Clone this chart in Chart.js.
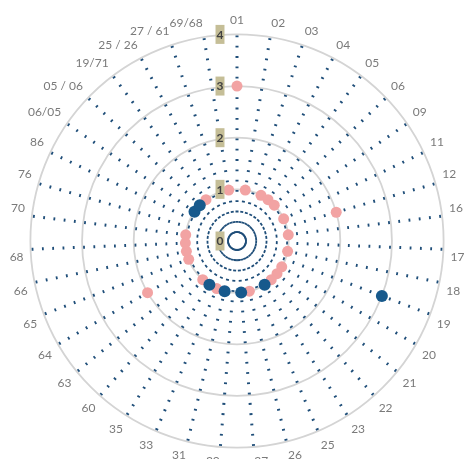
<!DOCTYPE html>
<html><head><meta charset="utf-8">
<script src="https://cdn.jsdelivr.net/npm/chart.js@4.4.1/dist/chart.umd.min.js"></script>
<style>
html,body{margin:0;padding:0;background:#fff;overflow:hidden;width:464px;height:459px;}
#wrap{position:absolute;left:0;top:0;width:470px;height:475px;}
</style></head><body>
<div id="wrap"><canvas id="c"></canvas></div>
<script>
const categories = ['01','02','03','04','05','06','09','11','12','16','17','18','19','20','21','22','23','25','26','27','30','31','33','35','60','63','64','65','66','68','70','76','86','06/05','05 / 06','19/71','25 / 26','27 / 61','69/68'];
const pinkValues = [3,1,null,1,1,1,null,1,2,1,null,1,null,1,1,1,null,null,1,null,null,null,1,null,1,null,2,1,1,1,1,null,null,null,null,1,null,null,1];
const blueValues = [null,null,null,null,null,null,null,null,null,null,null,null,3,null,null,null,1,null,null,1,null,1,null,1,null,null,null,null,null,null,null,null,null,1,1,null,null,null,null];
const radialTicks = [0,1,2,3,4];

const tickLabelPlugin = {
  id: 'tickLabels',
  afterDatasetsDraw(chart) {
    const s = chart.scales.r, ctx = chart.ctx;
    ctx.save();
    ctx.font = 'bold 12px Lato';
    ctx.textAlign = 'center';
    ctx.textBaseline = 'middle';
    radialTicks.forEach(v => {
      const t = String(v);
      const y = s.yCenter - s.getDistanceFromCenterForValue(v);
      const x = s.xCenter - 17;
      const w = ctx.measureText(t).width + 2;
      ctx.fillStyle = '#C5BE97';
      ctx.fillRect(x - w / 2, y - 9.5, w, 19);
      ctx.fillStyle = '#404040';
      ctx.fillText(t, x, y + 0.5);
    });
    ctx.restore();
  }
};

new Chart(document.getElementById('c'), {
  type: 'radar',
  data: {
    labels: categories,
    datasets: [
      { label: 'B', data: blueValues, showLine: false, pointRadius: 6, pointHoverRadius: 6,
        pointBackgroundColor: '#17598C', pointBorderColor: '#17598C', pointBorderWidth: 0,
        borderWidth: 0, backgroundColor: 'transparent', fill: false, order: 0 },
      { label: 'A', data: pinkValues, showLine: false, pointRadius: 5.5, pointHoverRadius: 5.5,
        pointBackgroundColor: '#F2A3A3', pointBorderColor: '#F2A3A3', pointBorderWidth: 0,
        borderWidth: 0, backgroundColor: 'transparent', fill: false, order: 1 }
    ]
  },
  options: {
    responsive: true, maintainAspectRatio: false, animation: false,
    layout: { padding: { left: 10, right: 4, top: 13, bottom: 6 } },
    plugins: { legend: { display: false }, tooltip: { enabled: false } },
    scales: {
      r: {
        min: 0, max: 4,
        ticks: { display: false, stepSize: 1 },
        grid: { circular: true, color: '#D4D4D4', lineWidth: 1.8 },
        angleLines: { color: '#1F4E79', lineWidth: 3, borderDash: [1.8, 8.5], borderDashOffset: 2.3 },
        pointLabels: { font: { family: 'Lato', size: 12 }, color: '#7A7A7A', padding: 7 }
      }
    }
  },
  plugins: [tickLabelPlugin]
});
</script>
</body></html>
